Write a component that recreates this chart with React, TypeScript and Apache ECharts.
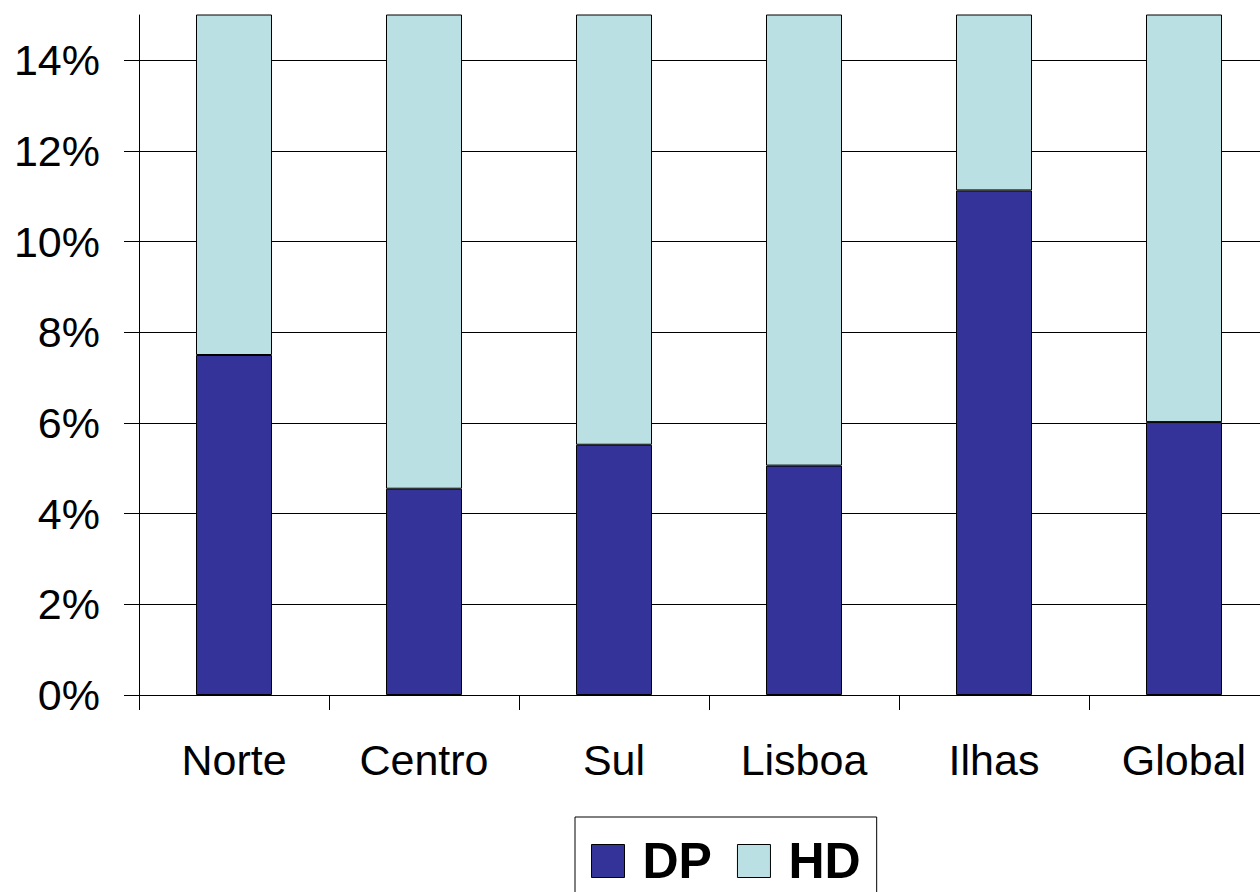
import React, { useEffect, useRef } from "react";
import * as echarts from "echarts";

const categories = ["Norte", "Centro", "Sul", "Lisboa", "Ilhas", "Global"];
const dpValues = [7.5, 4.55, 5.52, 5.06, 11.13, 6.02];
// HD part extends beyond the visible axis range (chart is cropped at 15%)
const hdValues = [92.5, 95.45, 94.48, 94.94, 88.87, 93.98];
const yTickValues = [0, 2, 4, 6, 8, 10, 12, 14];
const seriesNames = ["DP", "HD"];

export default function App() {
  const ref = useRef<HTMLDivElement>(null);
  useEffect(() => {
    if (!ref.current) return;
    const chart = echarts.init(ref.current, null, { renderer: "svg" });
    const font = "'Liberation Sans', Arial, sans-serif";
    chart.setOption({
      animation: false,
      backgroundColor: "#ffffff",
      grid: { left: 139, top: 15, right: 1, bottom: 197, containLabel: false },
      legend: {
        data: seriesNames,
        left: 575,
        top: 817,
        orient: "horizontal",
        icon: "rect",
        itemWidth: 33,
        itemHeight: 33,
        itemGap: 25,
        padding: [19, 16, 25, 16],
        borderColor: "#000",
        borderWidth: 1,
        itemStyle: { borderColor: "#000", borderWidth: 1 },
        textStyle: {
          fontFamily: font,
          fontSize: 50,
          fontWeight: "bold",
          color: "#000",
          padding: [0, 0, 0, 13],
        },
      },
      xAxis: {
        type: "category",
        data: categories,
        boundaryGap: true,
        axisLine: { show: true, lineStyle: { color: "#000", width: 1 } },
        axisTick: { show: true, alignWithLabel: false, interval: 0, length: 15, lineStyle: { color: "#000" } },
        axisLabel: { interval: 0, fontFamily: font, fontSize: 43, color: "#000", margin: 43 },
        splitLine: { show: false },
      },
      yAxis: {
        type: "value",
        min: 0,
        max: 15,
        interval: 2,
        axisLine: { show: true, lineStyle: { color: "#000", width: 1 } },
        axisTick: { show: true, length: 15, lineStyle: { color: "#000" }, customValues: yTickValues },
        axisLabel: {
          fontFamily: font,
          fontSize: 43,
          color: "#000",
          margin: 39,
          customValues: yTickValues,
          formatter: (v: number) => (v > 14 ? "" : v + "%"),
        },
        splitLine: { show: true, lineStyle: { color: "#000", width: 1 } },
      },
      series: [
        {
          name: seriesNames[0],
          type: "bar",
          stack: "total",
          data: dpValues,
          barWidth: 76,
          itemStyle: { color: "#333399", borderColor: "#000", borderWidth: 1 },
        },
        {
          name: seriesNames[1],
          type: "bar",
          stack: "total",
          data: hdValues,
          barWidth: 76,
          itemStyle: { color: "#BBE0E3", borderColor: "#000", borderWidth: 1 },
        },
      ],
    });
    return () => chart.dispose();
  }, []);
  return (
    <div
      ref={ref}
      style={{ position: "fixed", left: 0, top: 0, width: 1280, height: 892, background: "#fff" }}
    />
  );
}
